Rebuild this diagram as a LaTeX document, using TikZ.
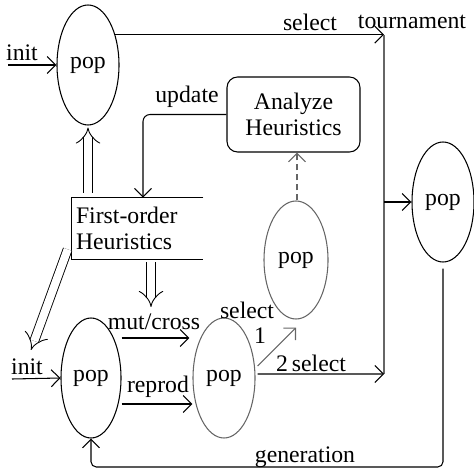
\documentclass[tikz,border=0pt]{standalone}
\usepackage{fontspec}
\setmainfont{Liberation Serif}
\usetikzlibrary{shapes.geometric,arrows.meta}

\tikzset{
  popnode/.style={ellipse, draw, line width=0.6pt, inner sep=0,
                  minimum width=1.24cm, minimum height=2.4cm},
  flow arrow/.style={-{Straight Barb[length=0.17cm,width=0.34cm]}, line width=0.6pt},
  dbl arrow/.style={double, double distance=0.16cm, line width=0.5pt, -{Implies[scale=1.6]}},
  lbl/.style={inner sep=1pt},
}
\colorlet{linegray}{black!60}

\begin{document}
\begin{tikzpicture}[font=\fontsize{13.5}{14.5}\selectfont]
        % canvas 9.48 x 9.44 cm
        \useasboundingbox (0,0) rectangle (9.48,9.44);

        % ---- populations ----
        \node[popnode]                                   (pop1) at (1.76, 8.14) {pop};
        \node[popnode, minimum width=1.20cm]             (popA) at (1.82, 1.88) {pop};
        \node[popnode, draw=linegray]                    (popB) at (4.48, 1.88) {pop};
        \node[popnode, draw=linegray, minimum width=1.28cm,
              minimum height=2.36cm]                     (popC) at (5.92, 4.24) {pop};
        \node[popnode]                                   (popD) at (8.86, 5.40) {pop};

        % ---- heuristics boxes ----
        \node[draw, rounded corners=6pt, line width=0.6pt, align=center,
              minimum width=2.66cm, minimum height=1.50cm] (ana) at (5.87, 7.15)
              {Analyze\\Heuristics};
        \node[align=left, text width=2.46cm, inner sep=0.08cm,
              minimum height=1.22cm]                     (first) at (2.75, 4.87)
              {First-order\\Heuristics};
        % open on the right
        \draw[line width=0.6pt] (first.north east) -- (first.north west)
              -- (first.south west) -- (first.south east);

        % ---- labels ----
        \node[lbl] (init1)  at (0.44, 8.38) {init};
        \node[lbl] (initA)  at (0.54, 2.10) {init};
        \node[lbl] (selT)   at (6.20, 9.00) {select};
        \node[lbl] (tourn)  at (8.24, 9.00) {tournament};
        \node[lbl] (upd)    at (3.74, 7.50) {update};
        \node[lbl] (mut)    at (3.08, 3.00) {mut/cross};
        \node[lbl] (repr)   at (3.16, 1.70) {reprod};
        \node[lbl] (sel1)   at (4.94, 3.24) {select};
        \node[lbl] (one)    at (5.20, 2.72) {1};
        \node[lbl] (sel2)   at (6.22, 2.18) {2\,select};
        \node[lbl] (gen)    at (6.10, 0.30) {generation};

        % ---- free ends ----
        \coordinate (in1)  at (0.16, 8.14);
        \coordinate (inA)  at (0.24, 1.86);
        \coordinate (bus)  at (7.68, 8.74);
        \coordinate (busB) at (7.68, 1.96);
        \coordinate (genR) at (8.86, 0.10);

        % ---- init arrows ----
        \draw[flow arrow] (in1) -- (pop1.west);
        \draw[flow arrow] (inA) -- (popA.west);

        % ---- tournament selection bus ----
        \draw[flow arrow] (pop1.48) -- (pop1.48 -| bus);
        \draw[linegray, line width=0.6pt] (bus) -- (busB);
        \draw[flow arrow] (popD.west -| bus) -- (popD.west);

        % ---- heuristics feedback ----
        \draw[flow arrow, rounded corners=4pt] (ana.west) -| ([xshift=0.11cm]first.north);
        \draw[dbl arrow] ([yshift=0.1cm]first.north -| pop1.south) -- ([yshift=-0.04cm]pop1.south);
        \draw[dbl arrow] ([xshift=-0.06cm,yshift=-0.06cm]first.south -| mut.north)
              -- ([xshift=-0.06cm,yshift=0.1cm]mut.north);
        \draw[dbl arrow] ([xshift=-0.08cm,yshift=0.2cm]first.south west)
              -- ([xshift=0.08cm,yshift=0.14cm]initA.north);

        % ---- variation ----
        \draw[flow arrow] ([yshift=0.8cm]popA.east) -- ([yshift=0.8cm,xshift=-0.06cm]popB.west);
        \draw[flow arrow] ([yshift=-0.52cm]popA.east) -- ([yshift=-0.52cm]popB.west);

        % ---- selection ----
        \draw[flow arrow, linegray] ([xshift=0.04cm,yshift=0.24cm]popB.east)
              -- ([yshift=-0.16cm]popC.south);
        \draw[flow arrow] ([xshift=0.04cm,yshift=0.08cm]popB.east) -- (busB);
        \draw[flow arrow, linegray, dash pattern=on 0.12cm off 0.08cm]
              ([xshift=0.02cm]popC.north) -- ([xshift=0.02cm]popC.north |- ana.south);

        % ---- next generation ----
        \draw[flow arrow, rounded corners=3pt] ([yshift=-0.12cm]popD.south)
              -- (genR) -| (popA.south);
\end{tikzpicture}
\end{document}
